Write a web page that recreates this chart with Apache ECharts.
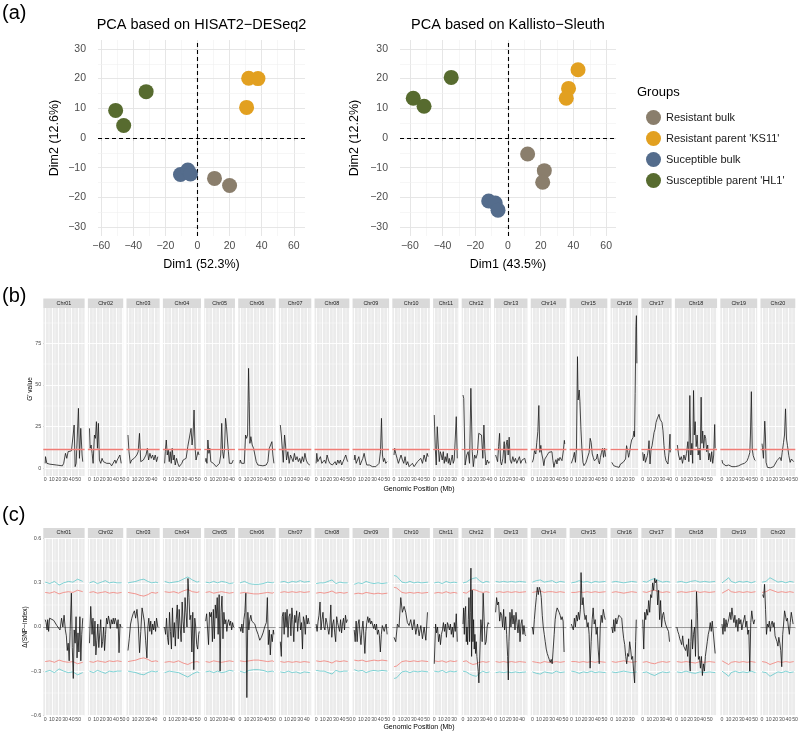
<!DOCTYPE html>
<html>
<head>
<meta charset="utf-8">
<script src="https://cdn.jsdelivr.net/npm/echarts@6/dist/echarts.min.js"></script>
<style>
html, body { margin: 0; padding: 0; background: #fff; }
#chart { width: 798px; height: 731px; }
</style>
</head>
<body>
<div id="chart"></div>
<script>
// ---------------- data ----------------
var groupNames = ['Resistant bulk', "Resistant parent 'KS11'", 'Suceptible bulk', "Susceptible parent 'HL1'"];

// PCA, HISAT2-DESeq2 (Dim1, Dim2)
var hisatResBulk = [[10.6, -13.6], [20, -16]];
var hisatResParent = [[31.9, 20.1], [37.7, 20], [30.6, 10.3]];
var hisatSusBulk = [[-10.6, -12.3], [-6, -10.8], [-4.4, -12.1]];
var hisatSusParent = [[-51, 9.3], [-46, 4.2], [-32, 15.6]];
// PCA, Kallisto-Sleuth
var kalResBulk = [[12, -5.4], [22.2, -11], [21.2, -14.9]];
var kalResParent = [[42.8, 23], [37, 16.7], [35.6, 13.4]];
var kalSusBulk = [[-11.8, -21.2], [-7.8, -21.9], [-6.1, -24.3]];
var kalSusParent = [[-57.9, 13.4], [-51.3, 10.7], [-34.7, 20.4]];

var pcaXTicks = [-60, -40, -20, 0, 20, 40, 60];
var pcaYTicks = [-30, -20, -10, 0, 10, 20, 30];

var chromNames = ['Chr01', 'Chr02', 'Chr03', 'Chr04', 'Chr05', 'Chr06', 'Chr07', 'Chr08', 'Chr09', 'Chr10',
  'Chr11', 'Chr12', 'Chr13', 'Chr14', 'Chr15', 'Chr16', 'Chr17', 'Chr18', 'Chr19', 'Chr20'];
var chromLen = [56.8, 48.6, 45.6, 52.4, 42.2, 51.4, 44.6, 47.8, 50.2, 51.6,
  34.8, 40.1, 45.9, 49.0, 51.8, 37.9, 41.6, 58.0, 50.7, 47.9];
var mbTicks = [0, 10, 20, 30, 40, 50];
var gTicks = [0, 25, 50, 75];
var dTicks = [-0.6, -0.3, 0, 0.3, 0.6];
var gThreshold = 11.2;

// G' value per chromosome: [position Mb, G']
var gp01 = [[0,3],[0.5,7],[2.5,3],[7,2.5],[17,2],[26,1.5],[28,3],[30.7,9],[32.7,6],[34.7,10],[39.7,10.5],[42.3,20],[43.8,26],[45.3,1],[46.8,3],[47.8,12],[50.3,36],[51.8,6],[53.8,24],[55.8,8],[56.8,4]];
var gp02 = [[0,24],[1,12],[2.5,14],[4,9],[5.5,3],[7.5,20],[9,18],[10.5,28],[12,12],[13.5,27],[15,5],[17,3],[19,6],[21,4],[23.5,5],[26,3],[28.5,2.5],[31,3],[33.5,1.5],[36,2],[38.5,5],[40,3],[42,5],[44,4],[46,8],[48,3]];
var gp03 = [[0,20],[1.5,10],[3.5,3],[5.5,5],[7.4,4],[9.4,6],[11.4,5],[13.4,8],[15.4,10],[17.4,21],[19.3,4],[21.3,3],[23.3,5],[25.3,4],[27.3,8],[29.3,12],[31.2,5],[33.2,9],[35.2,6],[37.2,8],[39.2,5],[41.2,8],[43.2,4],[45.1,7]];
var gp04 = [[0,3],[1,10],[2.5,17],[4,8],[5.5,11],[7,4],[8.5,10],[10,3],[11.5,12],[13,5],[14.5,8],[16,2],[18,6],[20,3],[22,1],[24,2],[26,3],[28,5],[30.5,4],[32.5,6],[35,13],[37.5,14],[40,24],[41.5,14],[43,20],[44.5,35],[46,13],[47.5,5],[49,4],[50.5,10],[52,8]];
var gp05 = [[0,4],[0.5,6],[2,3],[3.4,17],[4.9,9],[6.3,12],[7.8,4],[9.7,5],[11.6,3],[13.6,2],[16,1],[18.4,1],[20.9,3],[22.8,8],[24.3,27],[25.7,10],[27.2,6],[28.6,12],[30.1,30],[31.5,25],[33,17],[34.4,10],[35.9,3],[37.8,4],[39.8,3],[41.7,5]];
var gp06 = [[0,3],[0.5,5],[2.5,3],[4.5,4],[6.6,3],[8.6,20],[10.1,18],[11.6,20],[13.1,60],[14.1,40],[15.1,15],[16.6,19],[18.6,14],[20.7,12],[22.7,8],[24.7,4],[27.2,2],[29.7,1.5],[34.8,1.5],[39.8,2],[42.3,4],[44.4,12],[46.4,14],[48.4,16],[49.9,8],[51.4,3]];
var gp07 = [[0,26],[1.5,20],[3,19],[4.5,3.6],[6.4,20],[7.9,14],[9.4,5],[11.4,10],[13.4,3],[15.4,8],[17.4,6],[19.3,4],[21.3,9],[23.3,5],[25.3,7],[27.3,4],[29.3,6],[31.2,3],[33.2,7],[35.2,4],[37.2,9],[39.2,5],[41.2,3],[43.2,4],[44.6,2]];
var gp08 = [[0,3],[1,9],[2.5,4],[4.5,3],[6.5,7],[8.6,3],[10.6,2],[12.6,5],[14.6,3],[16.6,8],[18.6,5],[20.6,3],[22.6,4],[24.6,2],[26.7,3],[28.7,4],[30.7,2],[32.7,5],[34.7,3],[36.7,5],[38.7,2],[40.7,4],[42.8,6],[44.8,8],[46.8,5],[47.8,4]];
var gp09 = [[0,5],[1,8],[3,3],[5,4],[7,7],[9,2],[11,3],[13,6],[15,9],[17,5],[19,2],[21,3],[23,2],[25,1],[27.6,1],[30.1,1.5],[32.6,1],[35.1,2],[37.6,3],[39.7,10],[41.2,30],[42.7,8],[44.2,4],[45.7,6],[47.7,3],[49.7,4]];
var gp10 = [[0,8],[1,12],[2.5,9],[4.6,6],[6.6,3],[8.6,4],[10.6,8],[12.7,5],[14.7,3],[16.7,7],[18.7,2],[20.7,4],[22.8,1],[25.3,2],[27.8,3],[30.4,1],[32.9,2],[35.4,4],[38,3],[40.5,6],[43,3],[45.5,8],[48.1,4],[50.1,9],[51.6,7]];
var gp11 = [[0,32],[1.5,12],[3,2],[4.5,25],[6,14],[7.6,4],[9.1,10],[10.6,8],[12.1,5],[13.6,10],[15.1,3],[16.6,7],[18.1,4],[19.7,9],[21.2,3],[22.7,6],[24.2,2],[25.7,5],[27.2,8],[28.7,3],[30.2,5],[31.8,4],[33.3,31],[34.8,6]];
var gp12 = [[0,44],[1.1,42],[3.2,2],[5.7,8],[7.8,10],[9.9,3],[11.9,48],[14,10],[15.6,1],[17.6,8],[19.7,6],[21.8,9],[23.8,21],[25.9,21],[28,20],[30,6],[31.6,26],[33.1,10],[34.7,2],[36.7,5],[38.8,3],[40.1,4]];
var gp13 = [[0,8],[1.5,6],[3,4],[4.5,13],[6,21],[7.5,4],[9,2],[11,6],[13,16],[14.5,3],[16,14],[17.5,17],[19,8],[20.5,18.7],[22,5],[24,3],[26,7],[28,4],[30,6],[32,3],[34,5],[36,7],[38,3],[40,5],[42,4],[44,6],[45.9,3]];
var gp14 = [[0,3.6],[1.6,5.6],[3.2,10.6],[5.2,8.6],[6.7,15.6],[8.3,22],[9.8,37.7],[11.3,9.6],[12.8,13.8],[14.3,8.6],[15.9,5.6],[17.4,1.6],[18.9,5.6],[20.4,6.6],[22,7.6],[23.5,8.6],[25,9.6],[26.5,10.6],[28,8.6],[29.6,10],[31.1,4.6],[32.6,0.6],[34.2,3.6],[35.7,5.2],[37.2,2.6],[38.7,6],[40.3,4.6],[41.8,6.6],[43.3,5.6],[44.8,4.6],[46.9,10.6],[48.4,16.8],[49,14.6]];
var gp15 = [[0,3],[1.5,2],[3.1,6.6],[4.6,9.6],[6.2,3.6],[7.7,11.6],[9.3,67],[10.3,41],[11.9,47],[13,40],[14.5,23.5],[16,11.6],[17.6,3.6],[19.1,1.6],[20.7,0.6],[22.2,3.6],[23.8,5.6],[25.4,6.6],[26.9,9.6],[28.5,18],[30,15.6],[31.6,8.6],[33.1,6.6],[34.7,4.6],[36.3,3.6],[37.8,5.6],[39.4,8.6],[40.9,4.6],[42.5,2.6],[44,6.6],[45.6,9.6],[47.2,12],[48.7,6.6],[50.3,12],[51.8,7]];
var gp16 = [[0,3.6],[0.8,2.6],[2.8,1.6],[4.9,2],[6.9,1],[9,1.6],[11.1,0.6],[13.1,2.6],[15.1,1.6],[17.2,3.6],[19.3,2.6],[20.8,5.6],[22.3,13.6],[23.9,10.6],[25.4,6.6],[26.9,9.6],[28.5,14],[30,17],[32,18.4],[33.6,22.4],[34.4,19],[35.3,45],[36.5,85],[37.2,91.6],[37.9,63]];
var gp17 = [[0,9.6],[1,4.6],[2.5,8.6],[4,3.6],[5.5,5.6],[7,7.6],[8.5,11.6],[9.5,16.6],[11,2.6],[12.6,11.6],[14.1,13.6],[15.6,17.6],[17.1,21.5],[18.6,23.5],[20.1,27.5],[21.6,29.5],[23.1,28.5],[24.6,32.4],[26.1,29.5],[27.6,29],[29.1,27.5],[30.6,22.5],[32.1,13.6],[33.6,7.6],[35.1,4.6],[36.6,3.6],[38.1,2.6],[39.7,9.6],[41.2,20.5],[41.6,9.6]];
var gp18 = [[0.8,14],[2.7,8],[4.7,5],[6.8,7],[8.7,3],[10.7,8],[12.8,5],[14.7,9],[16.7,16],[18.2,4],[19.7,43.7],[21.2,8],[22.7,15],[24,3],[25.3,46.7],[26.5,20],[27.8,28],[29.3,13],[30.8,20],[32.3,8],[33.8,12],[35.3,5],[36.8,42.7],[38,15],[39.2,22.4],[40.7,12],[42.2,20],[43.7,18],[45.2,10],[46.7,14],[48.2,5],[49.7,9],[51.2,4],[52.8,10],[54.3,3],[55.8,8],[57.3,26.3],[58,12]];
var gp19 = [[0,5],[1,3],[3.5,2],[6,1.5],[7.6,1],[10,2],[12.6,1.6],[15,1],[17.7,2],[20,1],[22.8,0.6],[25,1.5],[27.9,1.6],[30,2.5],[32,2.6],[34,3],[35.5,3.6],[38,4.6],[40,6.6],[42.1,9.6],[43,20],[44.4,46],[45.7,11.6],[47.2,7.6],[48.5,8],[49.5,5],[50.7,4.6]];
var gp20 = [[0,14.8],[0.6,12.6],[2.1,6],[4.1,28.3],[5.1,20],[6.1,3.6],[8.1,0.6],[10.1,0.6],[12.5,0.3],[15,0.6],[17.5,1],[20,1.6],[22.5,4.6],[24,5.6],[25.5,3.6],[27,6.6],[29,4.6],[30.5,9.6],[32.5,15.6],[34,20],[35.5,35.7],[37,17.6],[38.5,13.6],[40.5,7.6],[42.5,3.6],[44.4,5.6],[46.4,6.6],[47.9,4]];

// delta(SNP-index) per chromosome: [position Mb, delta]
var ds01 = [[0,0.05],[1.4,0.03],[2.9,-0.02],[3.8,0.05],[5.2,-0.03],[6.7,0.06],[9.1,0.07],[12.9,0.045],[17.6,0.01],[22.4,-0.02],[24.8,0.06],[26.7,0],[28.6,0.08],[30.5,-0.02],[32,-0.06],[33.4,-0.16],[34.8,-0.11],[36.3,-0.23],[37.7,-0.03],[39.6,0.23],[41,-0.14],[42.5,-0.35],[43.9,-0.02],[45.3,-0.11],[46.7,0.07],[48.2,-0.21],[49.6,-0.04],[51,-0.17],[52.5,0.07],[53.9,-0.23],[55.3,-0.05],[56.8,0.06]];
var ds02 = [[0,-0.11],[1.9,0.14],[3.9,-0.05],[5.3,0.06],[6.8,-0.13],[8.3,0.04],[9.7,-0.19],[11.2,-0.09],[12.6,0.02],[14.1,-0.14],[15.6,-0.04],[17,0.05],[18.5,-0.14],[19.9,-0.1],[21.4,0],[22.8,-0.16],[24.3,-0.05],[25.8,0.06],[27.2,0.02],[28.7,0.075],[30.1,0.04],[31.6,-0.01],[33,0.05],[34.5,0.02],[36,0.06],[37.4,0.02],[38.9,0.06],[40.3,0.04],[41.8,-0.01],[43.3,0.05],[44.7,-0.175],[46.2,0.02],[47.6,0]];
var ds03 = [[0,-0.16],[1.9,-0.08],[3.9,0.02],[5.8,0.06],[7.8,0.09],[9.7,0.11],[11.6,0.06],[13.6,0.12],[15.5,0.02],[17.5,-0.175],[19.4,-0.03],[21.3,0.13],[22.8,0.14],[24.7,0.04],[26.7,-0.09],[28.6,-0.21],[30.1,0],[31.5,0.06],[33,-0.03],[34.4,0.04],[35.9,-0.05],[37.3,0.02],[38.8,-0.02],[40.3,0.04],[41.7,-0.03],[43.2,0.06],[45.1,0]];
var ds04 = [[0,0],[1.5,-0.05],[2.9,0.06],[4.4,-0.07],[5.9,-0.12],[7.4,0.1],[8.8,-0.03],[10.3,-0.15],[11.8,0.13],[13.2,-0.07],[14.7,0.03],[16.2,-0.13],[17.6,0.05],[19.1,0.15],[20.6,-0.08],[22,0.12],[23.5,0],[25,-0.1],[26.5,0.17],[27.9,0.04],[29.4,-0.04],[30.9,0.2],[32.3,0.1],[33.8,0],[35.3,0.33],[36.8,0.2],[38.2,0.05],[39.7,0.08],[41.2,-0.17],[42.6,0.1],[44.1,-0.29],[45.6,0.06],[47,0],[48.5,-0.12],[50,-0.15],[51.5,-0.05],[52.4,-0.03]];
var ds05 = [[0,0.04],[1.5,0.09],[2.9,0.08],[4.4,-0.12],[5.8,0.1],[7.3,0.07],[8.7,0.1],[10.2,-0.1],[11.6,0.12],[13.1,-0.08],[14.6,0.15],[16,0.06],[17.5,0.2],[18.9,-0.05],[20.4,0.22],[21.8,-0.3],[23.3,0.1],[24.7,0.21],[26.2,-0.08],[27.6,0.1],[29.1,0.02],[30.6,0.05],[32,-0.03],[33.5,0.03],[34.9,0.05],[36.4,0.01],[37.8,0.04],[39.3,-0.02],[40.7,0.03],[42.2,0]];
var ds06 = [[0,0],[1.5,-0.03],[3,0.02],[4.5,-0.04],[6,0.05],[7.5,0.1],[9,0.23],[10.5,-0.48],[12,0.1],[13.5,-0.02],[15,0.05],[16.5,0.08],[18,0.04],[19.5,0.03],[22.5,0.02],[25,-0.02],[27.5,-0.05],[30,-0.09],[32.5,-0.07],[35,-0.04],[37.5,0],[40,0.03],[41.5,0.2],[43,-0.12],[44.5,-0.02],[46,-0.19],[47.5,-0.05],[49,-0.1],[50.5,-0.02],[51.4,-0.05]];
var ds07 = [[0,-0.1],[1.5,-0.2],[2.9,0.07],[4.4,0.1],[5.8,-0.05],[7.3,0.1],[8.7,0],[10.2,0.12],[11.6,-0.07],[13.1,0.07],[14.6,0.09],[16,-0.06],[17.5,0.13],[18.9,0.05],[20.4,-0.1],[21.8,0.08],[23.3,0.03],[24.7,0.11],[26.2,-0.03],[27.6,0.06],[29.1,0.1],[30.6,-0.02],[32,0.03],[33.5,-0.15],[34.9,0.07],[36.4,0.04],[37.8,-0.05],[39.3,0.08],[40.7,0.02],[42.2,0.06],[43.7,0.02]];
var ds08 = [[0,0.02],[1.5,-0.03],[3,0.04],[4.4,0.08],[5.9,0.17],[7.4,-0.02],[8.9,0.05],[10.4,0.1],[11.8,0],[13.3,-0.02],[14.8,0.06],[16.3,0.03],[17.7,0.04],[19.2,-0.05],[20.7,0],[22.2,0.15],[23.7,-0.07],[25.1,0.02],[26.6,0.05],[28.1,-0.04],[29.6,-0.1],[31.1,0.07],[32.5,0.03],[34,0],[35.5,-0.03],[37,0.05],[38.5,-0.04],[39.9,0.02],[41.4,0.06],[42.9,-0.02],[44.4,0.08],[45.8,0.03],[47.3,0.05]];
var ds09 = [[0,-0.02],[1.5,-0.1],[2.9,0.04],[4.4,-0.1],[5.9,0.02],[7.3,0.05],[8.8,-0.05],[10.2,-0.12],[11.7,-0.02],[13.2,0.04],[14.6,-0.06],[16.1,-0.18],[17.6,-0.03],[19,0.03],[20.5,0.07],[22,0.03],[23.4,0.06],[24.9,0.02],[26.4,0.04],[27.8,0.03],[29.3,-0.01],[30.7,0.02],[32.2,-0.02],[33.7,0.02],[35.1,-0.05],[36.6,-0.02],[38.1,-0.06],[39.5,-0.17],[41,-0.05],[42.5,0.01],[43.9,0.02],[45.4,-0.03],[46.8,0],[48.3,0.02],[49.8,-0.05]];
var ds10 = [[0,-0.07],[2.6,-0.1],[5.1,0.02],[7.6,0],[10.2,0.2],[12.6,0.1],[15.2,0.14],[17.7,0.1],[20.2,0.03],[22.8,0.01],[25.3,0.05],[27.8,-0.02],[30.4,0.05],[32.9,-0.05],[35.4,0.02],[38,-0.06],[40.5,0.01],[43,-0.08],[45.5,0],[48.1,-0.09],[50.6,0.1]];
var ds11 = [[0,-0.25],[2,0.02],[3.5,-0.04],[5,0],[6.5,-0.1],[8,-0.05],[9.4,-0.12],[10.9,-0.05],[12.4,-0.02],[13.9,0.03],[15.4,-0.03],[16.9,0.02],[18.4,-0.07],[19.9,0.03],[21.4,0.01],[22.9,-0.02],[24.4,0.02],[25.8,-0.05],[27.3,0],[28.8,-0.07],[30.3,0.03],[31.8,-0.03],[33.3,0.09],[34.8,-0.1]];
var ds12 = [[0,0.02],[1,0.13],[2,-0.05],[3,0.1],[4,0.14],[5,-0.1],[6,0],[7,-0.12],[8,0.05],[9,0.2],[10,-0.1],[11,0.1],[12,0.4],[13,-0.2],[14,0.25],[15,-0.1],[16,0.05],[17,-0.15],[18,-0.05],[19,-0.18],[20,-0.1],[21,-0.2],[22,-0.25],[23,-0.3],[24,-0.38],[25,-0.25],[26,-0.1],[27,0.05],[28,0],[29,-0.1],[30.5,0.23],[32,0.04],[33.5,-0.12],[35,-0.1],[36.5,0],[38,0.03],[39.5,0.02]];
var ds13 = [[0,0.1],[1.5,0.2],[3,0.15],[4.5,0.17],[6.1,0.04],[7.6,0.1],[9.1,0.08],[10.6,0],[12.1,0.12],[13.6,-0.02],[15.2,0.07],[16.7,-0.05],[18.2,-0.2],[19.2,-0.36],[20.2,-0.1],[21.7,0.1],[23.2,0],[24.7,0.12],[26.3,0.02],[27.8,0.08],[29.3,-0.02],[30.8,0.1],[32.3,0.03],[33.8,-0.04],[35.4,0.05],[36.9,-0.1],[38.4,0.02],[39.9,0.05],[41.4,-0.05],[42.9,0.01],[44.4,-0.05],[45.5,-0.06]];
var ds14 = [[0,0],[1.5,-0.05],[3,0.05],[4.5,0.13],[6,0.2],[7.5,0.27],[9,0.22],[10.5,0.27],[12,0.25],[13.5,0.2],[15,0.08],[16.5,0],[18,-0.05],[19.5,-0.1],[21,-0.15],[22.5,-0.18],[24,-0.2],[25.5,-0.22],[27,-0.24],[28.5,-0.22],[30,-0.25],[31.5,-0.15],[33,-0.05],[34.5,0.05],[36,0.1],[37.5,0.13],[39,0.14],[40.5,0.1],[42,0.08],[43.5,0.05],[45,0.07],[46.5,0.04],[48,-0.17]];
var ds15 = [[0,0.02],[1.5,0.03],[3,-0.02],[4.6,0.06],[6.1,0],[7.6,0.08],[9.1,0.04],[10.7,0.1],[12.2,0.05],[13.7,0.12],[14.7,0.37],[16.3,0.15],[17.8,0.2],[19.3,0.1],[20.8,0.05],[22.4,0.08],[23.9,0],[25.4,0.03],[26.9,-0.05],[28.4,-0.28],[30,-0.1],[31.5,0.05],[33,0.13],[34.5,0.02],[36.1,0.05],[37.6,-0.05],[39.1,0],[40.6,-0.15],[42.2,-0.25],[43.7,0],[45.2,0.08],[46.7,0.03],[48.3,0.12],[49.8,0.08],[51.3,0.05]];
var ds16 = [[0,0],[1.5,-0.04],[3,0.05],[4.5,-0.03],[6,0.06],[7.5,0.02],[9,0.05],[10.5,0.08],[12,0.07],[13.5,0.09],[15,0.06],[16.5,-0.02],[18,-0.08],[19.5,-0.12],[21,-0.2],[22.5,-0.25],[24,-0.18],[25.5,-0.2],[27,-0.1],[28.5,-0.15],[30,-0.22],[31.5,-0.2],[33,-0.3],[34.5,-0.38],[36,-0.1],[37,0.05]];
var ds17 = [[0,0.05],[1.5,-0.15],[3,0.1],[4.5,0.05],[6,0.12],[7.5,0.08],[9,0.18],[10.5,0.1],[12,0.22],[13.5,0.2],[15,0.3],[16.5,0.25],[18,0.33],[19.5,0.3],[21,0.32],[22.5,0.15],[24,0.25],[25.5,0.05],[27,0.18],[28.5,0],[30,0.08],[31.5,0.1],[33,0.05],[34.5,0.02],[36,0],[37.5,0.01],[39,-0.03],[40.5,-0.1]];
var ds18 = [[0,0],[1.5,-0.03],[3,-0.05],[4.5,-0.08],[6,-0.1],[7.4,-0.12],[8.9,-0.06],[10.4,-0.13],[11.9,-0.12],[13.4,-0.16],[14.9,-0.12],[16.4,-0.2],[17.9,-0.08],[19.3,-0.25],[20.3,-0.3],[21.3,-0.1],[22.3,0.05],[23.8,-0.15],[25.3,-0.05],[26.8,0],[28.3,-0.2],[29.8,0.24],[31.2,0.1],[32.7,-0.22],[34.2,-0.2],[35.7,-0.28],[37.2,-0.2],[38.7,-0.33],[40.2,-0.25],[41.7,-0.3],[43.2,-0.2],[44.6,-0.15],[46.1,-0.1],[47.6,-0.05],[49.1,-0.02],[50.6,0.03],[52.1,-0.03],[53.6,0.04],[55.1,0.03],[56.5,0.05],[58,-0.18]];
var ds19 = [[0,0.02],[1.5,-0.05],[3,0.06],[4.5,-0.03],[6,0.05],[7.5,0],[9,0.03],[10.5,0.06],[12,0.1],[13.5,0.05],[15,0.13],[16.5,0.07],[18,0.03],[19.5,0.08],[21,0],[22.5,0.05],[24,-0.03],[25.5,0.06],[27,0.02],[28.5,0.05],[30,-0.02],[31.5,0.02],[33,0.05],[34.5,0.08],[36,0],[37.5,0.04],[39,-0.05],[40.5,-0.02],[42,-0.3],[43.5,0.03],[45,0.11],[46.5,0.05],[48,0.02],[49.5,0.05]];
var ds20 = [[1,0.22],[2.4,0.2],[3.8,0.29],[5.3,0.12],[6.7,-0.05],[8.2,0.02],[9.6,0],[11,0.04],[12.5,-0.03],[13.9,0.02],[15.4,0.04],[16.8,0],[18.2,0.03],[19.7,-0.06],[21.1,-0.07],[22.6,-0.1],[24,-0.13],[25.4,-0.07],[26.9,-0.11],[28.3,-0.16],[29.8,-0.27],[31.2,-0.05],[32.6,0.02],[34.1,0.11],[35.5,0.1],[37,0.04],[38.4,0.06],[39.8,0],[41.3,-0.05],[42.7,0.03],[44.2,0.1],[45.6,0.06],[47,0.02]];

// confidence intervals per chromosome: [position Mb, CI95, CI99]
var ci01 = [[0,0.235,0.305],[7,0.23,0.295],[14,0.24,0.31],[21,0.225,0.285],[28,0.235,0.3],[35,0.24,0.31],[42,0.235,0.305],[49,0.25,0.325],[56.8,0.24,0.31]];
var ci02 = [[0,0.235,0.3],[6,0.24,0.31],[12,0.23,0.295],[18,0.235,0.305],[24,0.24,0.315],[30,0.23,0.3],[36,0.235,0.305],[42,0.23,0.3],[48.6,0.235,0.3]];
var ci03 = [[0,0.235,0.3],[6,0.23,0.305],[12,0.225,0.31],[18,0.215,0.32],[24,0.21,0.325],[30,0.22,0.31],[36,0.235,0.3],[42,0.23,0.305],[45.6,0.235,0.3]];
var ci04 = [[0,0.24,0.31],[7,0.235,0.3],[14,0.24,0.305],[21,0.23,0.31],[28,0.245,0.325],[35,0.255,0.34],[42,0.24,0.32],[49,0.235,0.305],[52.4,0.24,0.31]];
var ci05 = [[0,0.235,0.305],[6,0.24,0.3],[12,0.23,0.31],[18,0.235,0.3],[24,0.24,0.31],[30,0.235,0.305],[36,0.23,0.295],[42.2,0.235,0.3]];
var ci06 = [[0,0.23,0.3],[7,0.235,0.31],[14,0.23,0.295],[21,0.225,0.29],[28,0.225,0.29],[35,0.23,0.295],[42,0.235,0.305],[49,0.23,0.3],[51.4,0.235,0.305]];
var ci07 = [[0,0.235,0.305],[6,0.24,0.31],[12,0.235,0.3],[18,0.24,0.31],[24,0.235,0.305],[30,0.24,0.315],[36,0.235,0.305],[44.6,0.24,0.31]];
var ci08 = [[0,0.23,0.295],[6,0.235,0.3],[12,0.23,0.3],[18,0.235,0.31],[24,0.245,0.32],[30,0.23,0.295],[36,0.235,0.305],[42,0.23,0.3],[47.8,0.235,0.3]];
var ci09 = [[0,0.225,0.29],[6,0.23,0.3],[12,0.225,0.295],[18,0.235,0.31],[24,0.23,0.3],[30,0.225,0.295],[36,0.23,0.3],[42,0.225,0.295],[50.2,0.23,0.3]];
var ci10 = [[0,0.27,0.35],[4,0.265,0.345],[8,0.25,0.325],[12,0.235,0.305],[18,0.23,0.3],[24,0.235,0.31],[30,0.23,0.3],[36,0.235,0.305],[42,0.23,0.3],[51.6,0.235,0.305]];
var ci11 = [[0,0.23,0.3],[6,0.235,0.305],[12,0.23,0.295],[18,0.24,0.31],[24,0.23,0.3],[30,0.235,0.305],[34.8,0.23,0.3]];
var ci12 = [[0,0.235,0.3],[5,0.23,0.305],[10,0.245,0.32],[15,0.255,0.33],[20,0.25,0.335],[25,0.24,0.315],[30,0.235,0.3],[35,0.24,0.31],[40.1,0.235,0.305]];
var ci13 = [[0,0.235,0.31],[6,0.24,0.305],[12,0.235,0.31],[18,0.24,0.305],[24,0.235,0.31],[30,0.24,0.305],[36,0.235,0.31],[45.9,0.24,0.305]];
var ci14 = [[0,0.235,0.305],[6,0.24,0.315],[12,0.245,0.32],[18,0.235,0.305],[24,0.24,0.31],[30,0.24,0.315],[36,0.235,0.3],[42,0.24,0.31],[49,0.235,0.305]];
var ci15 = [[0,0.235,0.3],[6,0.235,0.305],[12,0.24,0.315],[18,0.235,0.305],[24,0.24,0.31],[30,0.235,0.3],[36,0.24,0.31],[42,0.235,0.305],[51.8,0.24,0.31]];
var ci16 = [[0,0.235,0.305],[6,0.24,0.31],[12,0.235,0.305],[18,0.23,0.3],[24,0.235,0.305],[30,0.24,0.31],[37.9,0.235,0.305]];
var ci17 = [[0,0.24,0.31],[6,0.235,0.305],[12,0.245,0.32],[18,0.25,0.33],[24,0.24,0.315],[30,0.235,0.305],[36,0.24,0.31],[41.6,0.235,0.305]];
var ci18 = [[0,0.235,0.305],[7,0.24,0.31],[14,0.235,0.3],[21,0.24,0.31],[28,0.245,0.315],[35,0.235,0.305],[42,0.24,0.31],[49,0.235,0.305],[58,0.24,0.31]];
var ci19 = [[0,0.23,0.3],[6,0.245,0.32],[10,0.255,0.335],[14,0.24,0.31],[20,0.235,0.3],[26,0.24,0.31],[32,0.235,0.305],[38,0.24,0.31],[44,0.235,0.3],[50.7,0.24,0.31]];
var ci20 = [[0,0.235,0.305],[6,0.24,0.31],[12,0.255,0.335],[18,0.245,0.32],[24,0.235,0.305],[30,0.24,0.31],[36,0.235,0.3],[42,0.24,0.31],[47.9,0.235,0.305]];

var gPrimeByChrom = [gp01, gp02, gp03, gp04, gp05, gp06, gp07, gp08, gp09, gp10, gp11, gp12, gp13, gp14, gp15, gp16, gp17, gp18, gp19, gp20];
var deltaByChrom = [ds01, ds02, ds03, ds04, ds05, ds06, ds07, ds08, ds09, ds10, ds11, ds12, ds13, ds14, ds15, ds16, ds17, ds18, ds19, ds20];
var ciByChrom = [ci01, ci02, ci03, ci04, ci05, ci06, ci07, ci08, ci09, ci10, ci11, ci12, ci13, ci14, ci15, ci16, ci17, ci18, ci19, ci20];

// ---------------- chart ----------------
var FONT = 'Liberation Sans, Arial, Helvetica, sans-serif';
var groupColors = ['#8a7e6c', '#e2a020', '#546c8c', '#576b2f'];
var minus = function (v) { return String(v).replace('-', '\u2212'); };

var myChart = echarts.init(document.getElementById('chart'), null, { renderer: 'canvas' });

var grids = [], xAxes = [], yAxes = [], series = [], graphics = [];

function lineMark(axis, value, color, width, type) {
  var item = { lineStyle: { color: color, width: width, type: type || 'solid' } };
  item[axis] = value;
  return item;
}

function stepsBetween(lo, hi, step) {
  var out = [];
  var start = Math.ceil(lo / step - 1e-9) * step;
  for (var v = start; v <= hi + 1e-9; v += step) out.push(Math.round(v * 1000) / 1000);
  return out;
}

// ---- panel (a): two PCA plots ----
function addPca(box, title, xName, yName, yGap, xMin, xMax, sets) {
  var gi = grids.length;
  grids.push({ left: box.left, top: box.top, width: box.width, height: box.height, show: false, outerBoundsMode: 'none' });
  xAxes.push({
    gridIndex: gi, type: 'value', min: xMin, max: xMax, offset: 2,
    axisLine: { show: false }, splitLine: { show: false },
    axisTick: { customValues: pcaXTicks, length: 3, lineStyle: { color: '#333', width: 1 } },
    axisLabel: { customValues: pcaXTicks, formatter: minus, fontSize: 10.5, color: '#4d4d4d', margin: 3, fontFamily: FONT },
    name: xName, nameLocation: 'middle', nameGap: 20,
    nameTextStyle: { fontSize: 12.5, color: '#000', fontFamily: FONT }
  });
  yAxes.push({
    gridIndex: gi, type: 'value', min: -33, max: 33, offset: 10,
    axisLine: { show: false }, splitLine: { show: false },
    axisTick: { customValues: pcaYTicks, length: 3, lineStyle: { color: '#333', width: 1 } },
    axisLabel: { customValues: pcaYTicks, formatter: minus, fontSize: 10.5, color: '#4d4d4d', margin: 2, fontFamily: FONT },
    name: yName, nameLocation: 'middle', nameGap: yGap,
    nameTextStyle: { fontSize: 12.5, color: '#000', fontFamily: FONT }
  });
  var marks = [];
  stepsBetween(xMin, xMax, 10).forEach(function (v) {
    marks.push(lineMark('xAxis', v, v % 20 === 0 ? '#e3e3e3' : '#f0f0f0', v % 20 === 0 ? 0.9 : 0.6));
  });
  stepsBetween(-33, 33, 5).forEach(function (v) {
    marks.push(lineMark('yAxis', v, v % 10 === 0 ? '#e3e3e3' : '#f0f0f0', v % 10 === 0 ? 0.9 : 0.6));
  });
  series.push({
    type: 'line', xAxisIndex: gi, yAxisIndex: gi, data: [], silent: true,
    markLine: { silent: true, symbol: 'none', z: 1, label: { show: false }, data: marks }
  });
  series.push({
    type: 'line', xAxisIndex: gi, yAxisIndex: gi, data: [], silent: true,
    markLine: {
      silent: true, symbol: 'none', z: 2, label: { show: false },
      data: [lineMark('xAxis', 0, '#000', 1.1, [4, 3]), lineMark('yAxis', 0, '#000', 1.1, [4, 3])]
    }
  });
  sets.forEach(function (pts, k) {
    series.push({
      name: groupNames[k], type: 'scatter', xAxisIndex: gi, yAxisIndex: gi, z: 5,
      symbolSize: 15, itemStyle: { color: groupColors[k], opacity: 1 }, data: pts
    });
  });
  graphics.push({
    type: 'text', x: box.left + box.width / 2, y: 25,
    style: { text: title, fontSize: 14.5, fontFamily: FONT, fill: '#000', textAlign: 'center', textVerticalAlign: 'middle' }
  });
}

addPca({ left: 98, top: 40, width: 207, height: 196 }, 'PCA based on HISAT2\u2212DESeq2',
  'Dim1 (52.3%)', 'Dim2 (12.6%)', 27, -62, 67, [hisatResBulk, hisatResParent, hisatSusBulk, hisatSusParent]);
addPca({ left: 400, top: 40, width: 216, height: 196 }, 'PCA based on Kallisto\u2212Sleuth',
  'Dim1 (43.5%)', 'Dim2 (12.2%)', 29, -66, 66, [kalResBulk, kalResParent, kalSusBulk, kalSusParent]);

graphics.push({ type: 'text', x: 637, y: 92, style: { text: 'Groups', fontSize: 13, fontFamily: FONT, fill: '#000', textVerticalAlign: 'middle' } });

// ---- panels (b) and (c): faceted by chromosome ----
var FX0 = 43.3, FX1 = 795.3, FGAP = 3.25;
var totalLen = chromLen.reduce(function (a, b) { return a + b; }, 0);
var pxPerMb = (FX1 - FX0 - FGAP * (chromLen.length - 1)) / (totalLen * 1.1);

function facetBox(i) {
  var x = FX0;
  for (var k = 0; k < i; k++) x += chromLen[k] * 1.1 * pxPerMb + FGAP;
  return { left: x, width: chromLen[i] * 1.1 * pxPerMb };
}

function addFacets(cfg) {
  chromNames.forEach(function (name, i) {
    var box = facetBox(i);
    var L = chromLen[i];
    var xMin = -0.05 * L, xMax = 1.05 * L;
    var gi = grids.length;
    grids.push({ left: box.left, top: cfg.top, width: box.width, height: cfg.height, show: true,
      backgroundColor: '#ebebeb', borderWidth: 0, outerBoundsMode: 'none' });
    var ticks = mbTicks.filter(function (t) { return t >= xMin && t <= xMax; });
    xAxes.push({
      gridIndex: gi, type: 'value', min: xMin, max: xMax,
      axisLine: { show: false }, splitLine: { show: false },
      axisTick: { customValues: ticks, length: 2, lineStyle: { color: '#333', width: 0.6 } },
      axisLabel: { customValues: ticks, fontSize: 5.2, color: '#4d4d4d', margin: 1.5, fontFamily: FONT }
    });
    yAxes.push({
      gridIndex: gi, type: 'value', min: cfg.yMin, max: cfg.yMax,
      axisLine: { show: false }, splitLine: { show: false },
      axisTick: { show: i === 0, customValues: cfg.yTicks, length: 2, lineStyle: { color: '#333', width: 0.6 } },
      axisLabel: { show: i === 0, customValues: cfg.yTicks, formatter: cfg.yFormat, fontSize: 5.4, color: '#4d4d4d', margin: 2, fontFamily: FONT }
    });
    var marks = [];
    stepsBetween(xMin, xMax, 5).forEach(function (v) {
      marks.push(lineMark('xAxis', v, '#ffffff', v % 10 === 0 ? 0.9 : 0.45));
    });
    cfg.yMajor.forEach(function (v) { marks.push(lineMark('yAxis', v, '#ffffff', 0.9)); });
    cfg.yMinor.forEach(function (v) { marks.push(lineMark('yAxis', v, '#ffffff', 0.45)); });
    series.push({
      type: 'line', xAxisIndex: gi, yAxisIndex: gi, data: [], silent: true,
      markLine: { silent: true, symbol: 'none', z: 1, label: { show: false }, data: marks }
    });
    cfg.addSeries(i, gi);
    // facet strip
    graphics.push({
      type: 'rect', shape: { x: box.left, y: cfg.top - cfg.strip, width: box.width, height: cfg.strip },
      style: { fill: '#d9d9d9' }, silent: true
    });
    graphics.push({
      type: 'text', x: box.left + box.width / 2, y: cfg.top - cfg.strip / 2, silent: true,
      style: { text: name, fontSize: 5.4, fontFamily: FONT, fill: '#1a1a1a', textAlign: 'center', textVerticalAlign: 'middle' }
    });
  });
}

addFacets({
  top: 308, height: 168, strip: 9.5, yMin: -4.6, yMax: 96.2,
  yTicks: gTicks, yMajor: gTicks, yMinor: [12.5, 37.5, 62.5, 87.5],
  yFormat: function (v) { return String(v); },
  addSeries: function (i, gi) {
    series.push({
      type: 'line', xAxisIndex: gi, yAxisIndex: gi, z: 10, data: gPrimeByChrom[i],
      showSymbol: false, symbol: 'none', silent: true,
      lineStyle: { color: '#1a1a1a', width: 0.8 },
      markLine: { silent: true, symbol: 'none', z: 12, label: { show: false },
        data: [lineMark('yAxis', gThreshold, '#f07c76', 1.3)] }
    });
  }
});

addFacets({
  top: 538, height: 178, strip: 10, yMin: -0.605, yMax: 0.605,
  yTicks: dTicks, yMajor: dTicks, yMinor: [-0.45, -0.15, 0.15, 0.45],
  yFormat: function (v) { return minus(v.toFixed(1)); },
  addSeries: function (i, gi) {
    var ci = ciByChrom[i];
    var bands = [
      { col: '#f26f66', idx: 1, sign: 1 }, { col: '#f26f66', idx: 1, sign: -1 },
      { col: '#4cc3c6', idx: 2, sign: 1 }, { col: '#4cc3c6', idx: 2, sign: -1 }
    ];
    bands.forEach(function (b) {
      series.push({
        type: 'line', xAxisIndex: gi, yAxisIndex: gi, z: 6, silent: true,
        showSymbol: false, symbol: 'none',
        data: ci.map(function (p) { return [p[0], b.sign * p[b.idx]]; }),
        lineStyle: { color: b.col, width: 0.7 }
      });
    });
    series.push({
      type: 'line', xAxisIndex: gi, yAxisIndex: gi, z: 10, data: deltaByChrom[i],
      showSymbol: false, symbol: 'none', silent: true,
      lineStyle: { color: '#111', width: 0.8 },
      markLine: { silent: true, symbol: 'none', z: 3, label: { show: false },
        data: [lineMark('yAxis', 0, '#555', 0.6)] }
    });
  }
});

// panel letters and shared axis titles
graphics.push({ type: 'text', x: 2, y: 13, style: { text: '(a)', fontSize: 20, fontFamily: FONT, fill: '#000', textVerticalAlign: 'middle' } });
graphics.push({ type: 'text', x: 2, y: 296, style: { text: '(b)', fontSize: 20, fontFamily: FONT, fill: '#000', textVerticalAlign: 'middle' } });
graphics.push({ type: 'text', x: 2, y: 515, style: { text: '(c)', fontSize: 20, fontFamily: FONT, fill: '#000', textVerticalAlign: 'middle' } });
graphics.push({ type: 'text', x: 419, y: 489, style: { text: 'Genomic Position (Mb)', fontSize: 7, fontFamily: FONT, fill: '#000', textAlign: 'center', textVerticalAlign: 'middle' } });
graphics.push({ type: 'text', x: 419, y: 727, style: { text: 'Genomic Position (Mb)', fontSize: 7, fontFamily: FONT, fill: '#000', textAlign: 'center', textVerticalAlign: 'middle' } });
graphics.push({ type: 'text', x: 30, y: 389, rotation: Math.PI / 2, style: { text: "G' value", fontSize: 6.5, fontFamily: FONT, fill: '#000', textAlign: 'center', textVerticalAlign: 'middle' } });
graphics.push({ type: 'text', x: 25, y: 627, rotation: Math.PI / 2, style: { text: '\u0394(SNP\u2212index)', fontSize: 6.5, fontFamily: FONT, fill: '#000', textAlign: 'center', textVerticalAlign: 'middle' } });

var option = {
  animation: false,
  backgroundColor: '#ffffff',
  textStyle: { fontFamily: FONT },
  legend: {
    data: groupNames, orient: 'vertical', left: 641, top: 105, itemGap: 6,
    itemWidth: 15, itemHeight: 15, icon: 'circle', selectedMode: false,
    textStyle: { fontSize: 11, color: '#1a1a1a', fontFamily: FONT }
  },
  grid: grids,
  xAxis: xAxes,
  yAxis: yAxes,
  series: series,
  graphic: graphics
};
myChart.setOption(option);
window.addEventListener('resize', function () { myChart.resize(); });
</script>
</body>
</html>
